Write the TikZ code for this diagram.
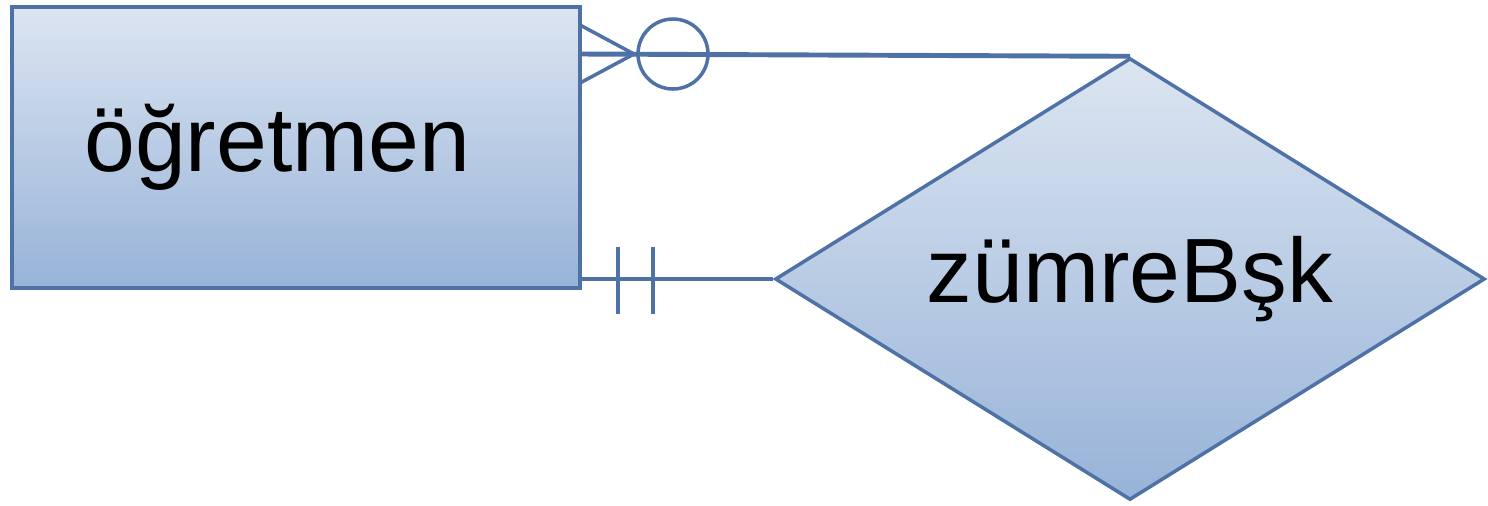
\documentclass[tikz,border=0pt]{standalone}
\usepackage{fontspec}
\setmainfont{Liberation Sans}
\usetikzlibrary{shapes.geometric}

\definecolor{erline}{HTML}{4F72A6}
\definecolor{ertop}{HTML}{DCE5F1}
\definecolor{erbottom}{HTML}{97B3D8}

\tikzset{
  entity/.style={draw=erline, line width=2pt, top color=ertop, bottom color=erbottom,
    rectangle, inner sep=0pt, font=\fontsize{52}{60}\selectfont},
  relation/.style={draw=erline, line width=2pt, top color=ertop, bottom color=erbottom,
    diamond, aspect=1.6, inner sep=0pt, font=\fontsize{52}{60}\selectfont},
  link/.style={erline, line width=2.8pt},
  crow/.style={erline, line width=2pt}
}

\begin{document}
\begin{tikzpicture}[x=0.02cm,y=-0.02cm]
		\useasboundingbox (0,0) rectangle (1488,505);
		% Entitaet
		\node[entity, minimum width=11.36cm, minimum height=5.62cm] (ogretmen) at (296,147.5) {\hspace*{-0.75cm}öğretmen};
		% Beziehung
		\node[relation, minimum width=14.2cm, minimum height=8.84cm] (zumre) at (1130,279) {zümreBşk};
		% viele (null oder mehr)
		\coordinate (k0) at (580,54);
		\coordinate (k1) at (580,25);
		\coordinate (k2) at (580,83);
		\coordinate (kp) at (634,54);
		\draw[link] (k0) -- (zumre.north);
		\draw[crow] (k1) -- (kp) -- (k2);
		\draw[crow] (673,54) circle (35);
		% genau eins
		\coordinate (e0) at (582,279);
		\draw[link] (e0) -- (zumre.west);
		\draw[link] (618,247) -- (618,314);
		\draw[link] (653,247) -- (653,314);
\end{tikzpicture}
\end{document}
